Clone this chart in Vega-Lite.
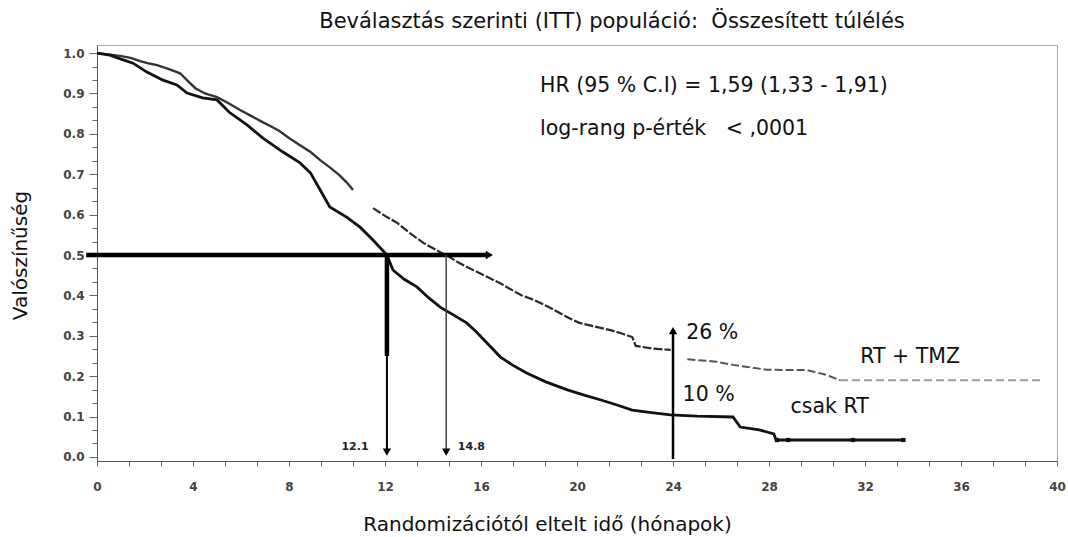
{
  "$schema": "https://vega.github.io/schema/vega-lite/v6.json",
  "width": 960,
  "height": 416,
  "autosize": {"type": "none"},
  "padding": {"left": 97, "top": 45, "right": 11, "bottom": 76},
  "background": "white",
  "title": {
    "text": "Beválasztás szerinti (ITT) populáció: \u00a0Összesített túlélés",
    "font": "DejaVu Sans", "fontSize": 21, "fontWeight": "normal", "color": "#111",
    "anchor": "middle", "dx": 35, "offset": 13
  },
  "config": {
    "view": {"stroke": "#aaa", "strokeWidth": 1},
    "axis": {"labelOverlap": false, "labelFlush": false, "labelBound": false}
  },
  "datasets": {
    "km": [
      {"series": "RT", "seg": "r", "t": 0, "s": 1.0},
      {"series": "RT", "seg": "r", "t": 0.54, "s": 0.995},
      {"series": "RT", "seg": "r", "t": 1.0, "s": 0.985},
      {"series": "RT", "seg": "r", "t": 1.5, "s": 0.975},
      {"series": "RT", "seg": "r", "t": 2.08, "s": 0.953},
      {"series": "RT", "seg": "r", "t": 2.75, "s": 0.933},
      {"series": "RT", "seg": "r", "t": 3.33, "s": 0.921},
      {"series": "RT", "seg": "r", "t": 3.75, "s": 0.901},
      {"series": "RT", "seg": "r", "t": 4.4, "s": 0.889},
      {"series": "RT", "seg": "r", "t": 5.0, "s": 0.884},
      {"series": "RT", "seg": "r", "t": 5.5, "s": 0.854},
      {"series": "RT", "seg": "r", "t": 6.25, "s": 0.822},
      {"series": "RT", "seg": "r", "t": 6.9, "s": 0.79},
      {"series": "RT", "seg": "r", "t": 7.75, "s": 0.755},
      {"series": "RT", "seg": "r", "t": 8.46, "s": 0.728},
      {"series": "RT", "seg": "r", "t": 8.9, "s": 0.703},
      {"series": "RT", "seg": "r", "t": 9.3, "s": 0.661},
      {"series": "RT", "seg": "r", "t": 9.7, "s": 0.619},
      {"series": "RT", "seg": "r", "t": 10.4, "s": 0.594},
      {"series": "RT", "seg": "r", "t": 10.96, "s": 0.569},
      {"series": "RT", "seg": "r", "t": 11.5, "s": 0.537},
      {"series": "RT", "seg": "r", "t": 12.08, "s": 0.5},
      {"series": "RT", "seg": "r", "t": 12.33, "s": 0.463},
      {"series": "RT", "seg": "r", "t": 12.8, "s": 0.44},
      {"series": "RT", "seg": "r", "t": 13.33, "s": 0.421},
      {"series": "RT", "seg": "r", "t": 13.8, "s": 0.395},
      {"series": "RT", "seg": "r", "t": 14.3, "s": 0.371},
      {"series": "RT", "seg": "r", "t": 14.9, "s": 0.35},
      {"series": "RT", "seg": "r", "t": 15.4, "s": 0.332},
      {"series": "RT", "seg": "r", "t": 15.8, "s": 0.31},
      {"series": "RT", "seg": "r", "t": 16.25, "s": 0.282},
      {"series": "RT", "seg": "r", "t": 16.8, "s": 0.248},
      {"series": "RT", "seg": "r", "t": 17.3, "s": 0.228},
      {"series": "RT", "seg": "r", "t": 17.9, "s": 0.208},
      {"series": "RT", "seg": "r", "t": 18.7, "s": 0.186},
      {"series": "RT", "seg": "r", "t": 19.6, "s": 0.166},
      {"series": "RT", "seg": "r", "t": 20.3, "s": 0.153},
      {"series": "RT", "seg": "r", "t": 21.0, "s": 0.141},
      {"series": "RT", "seg": "r", "t": 21.7, "s": 0.128},
      {"series": "RT", "seg": "r", "t": 22.3, "s": 0.116},
      {"series": "RT", "seg": "r", "t": 23.1, "s": 0.11},
      {"series": "RT", "seg": "r", "t": 23.9, "s": 0.104},
      {"series": "RT", "seg": "r", "t": 25.0, "s": 0.101},
      {"series": "RT", "seg": "r", "t": 26.5, "s": 0.099},
      {"series": "RT", "seg": "r", "t": 26.8, "s": 0.074},
      {"series": "RT", "seg": "r", "t": 27.6, "s": 0.067},
      {"series": "RT", "seg": "r", "t": 28.2, "s": 0.057},
      {"series": "RT", "seg": "r", "t": 28.3, "s": 0.042},
      {"series": "RT", "seg": "r", "t": 33.6, "s": 0.042},
      {"series": "RT+TMZ", "seg": "a", "t": 0, "s": 1.0},
      {"series": "RT+TMZ", "seg": "a", "t": 0.96, "s": 0.993},
      {"series": "RT+TMZ", "seg": "a", "t": 1.4, "s": 0.988},
      {"series": "RT+TMZ", "seg": "a", "t": 1.8, "s": 0.98},
      {"series": "RT+TMZ", "seg": "a", "t": 2.1, "s": 0.975},
      {"series": "RT+TMZ", "seg": "a", "t": 2.5, "s": 0.97},
      {"series": "RT+TMZ", "seg": "a", "t": 3.0, "s": 0.96},
      {"series": "RT+TMZ", "seg": "a", "t": 3.46, "s": 0.95},
      {"series": "RT+TMZ", "seg": "a", "t": 3.8, "s": 0.93},
      {"series": "RT+TMZ", "seg": "a", "t": 4.1, "s": 0.913},
      {"series": "RT+TMZ", "seg": "a", "t": 4.5, "s": 0.9},
      {"series": "RT+TMZ", "seg": "a", "t": 5.0, "s": 0.891},
      {"series": "RT+TMZ", "seg": "a", "t": 5.5, "s": 0.875},
      {"series": "RT+TMZ", "seg": "a", "t": 5.96, "s": 0.859},
      {"series": "RT+TMZ", "seg": "a", "t": 6.4, "s": 0.845},
      {"series": "RT+TMZ", "seg": "a", "t": 6.9, "s": 0.829},
      {"series": "RT+TMZ", "seg": "a", "t": 7.2, "s": 0.82},
      {"series": "RT+TMZ", "seg": "a", "t": 7.6, "s": 0.807},
      {"series": "RT+TMZ", "seg": "a", "t": 8.0, "s": 0.79},
      {"series": "RT+TMZ", "seg": "a", "t": 8.46, "s": 0.772},
      {"series": "RT+TMZ", "seg": "a", "t": 8.9, "s": 0.755},
      {"series": "RT+TMZ", "seg": "a", "t": 9.3, "s": 0.735},
      {"series": "RT+TMZ", "seg": "a", "t": 9.7, "s": 0.717},
      {"series": "RT+TMZ", "seg": "a", "t": 10.1, "s": 0.698},
      {"series": "RT+TMZ", "seg": "a", "t": 10.4, "s": 0.68},
      {"series": "RT+TMZ", "seg": "a", "t": 10.67, "s": 0.661},
      {"series": "RT+TMZ", "seg": "b", "t": 11.5, "s": 0.616},
      {"series": "RT+TMZ", "seg": "b", "t": 12.08, "s": 0.594},
      {"series": "RT+TMZ", "seg": "b", "t": 12.5, "s": 0.58},
      {"series": "RT+TMZ", "seg": "b", "t": 13.04, "s": 0.554},
      {"series": "RT+TMZ", "seg": "b", "t": 13.6, "s": 0.53},
      {"series": "RT+TMZ", "seg": "b", "t": 14.3, "s": 0.507},
      {"series": "RT+TMZ", "seg": "b", "t": 14.55, "s": 0.5},
      {"series": "RT+TMZ", "seg": "b", "t": 15.1, "s": 0.48},
      {"series": "RT+TMZ", "seg": "b", "t": 15.7, "s": 0.462},
      {"series": "RT+TMZ", "seg": "b", "t": 16.25, "s": 0.446},
      {"series": "RT+TMZ", "seg": "b", "t": 16.8, "s": 0.43},
      {"series": "RT+TMZ", "seg": "b", "t": 17.3, "s": 0.413},
      {"series": "RT+TMZ", "seg": "b", "t": 17.7, "s": 0.4},
      {"series": "RT+TMZ", "seg": "b", "t": 18.2, "s": 0.389},
      {"series": "RT+TMZ", "seg": "b", "t": 18.8, "s": 0.372},
      {"series": "RT+TMZ", "seg": "b", "t": 19.3, "s": 0.356},
      {"series": "RT+TMZ", "seg": "b", "t": 19.7, "s": 0.343},
      {"series": "RT+TMZ", "seg": "b", "t": 20.1, "s": 0.332},
      {"series": "RT+TMZ", "seg": "b", "t": 20.8, "s": 0.322},
      {"series": "RT+TMZ", "seg": "b", "t": 21.4, "s": 0.314},
      {"series": "RT+TMZ", "seg": "b", "t": 21.9, "s": 0.305},
      {"series": "RT+TMZ", "seg": "b", "t": 22.3, "s": 0.297},
      {"series": "RT+TMZ", "seg": "b", "t": 22.45, "s": 0.275},
      {"series": "RT+TMZ", "seg": "b", "t": 23.2, "s": 0.268},
      {"series": "RT+TMZ", "seg": "b", "t": 23.9, "s": 0.265},
      {"series": "RT+TMZ", "seg": "c", "t": 24.6, "s": 0.242},
      {"series": "RT+TMZ", "seg": "c", "t": 25.8, "s": 0.236},
      {"series": "RT+TMZ", "seg": "c", "t": 26.5, "s": 0.228},
      {"series": "RT+TMZ", "seg": "c", "t": 27.2, "s": 0.222},
      {"series": "RT+TMZ", "seg": "c", "t": 27.9, "s": 0.216},
      {"series": "RT+TMZ", "seg": "c", "t": 29.6, "s": 0.215},
      {"series": "RT+TMZ", "seg": "c", "t": 30.4, "s": 0.203},
      {"series": "RT+TMZ", "seg": "c", "t": 30.96, "s": 0.19},
      {"series": "RT+TMZ", "seg": "d", "t": 30.96, "s": 0.19},
      {"series": "RT+TMZ", "seg": "d", "t": 39.3, "s": 0.19}
    ],
    "censor": [
      {"series": "RT", "t": 28.33, "s": 0.042},
      {"series": "RT", "t": 28.8, "s": 0.042},
      {"series": "RT", "t": 31.5, "s": 0.042},
      {"series": "RT", "t": 33.6, "s": 0.042}
    ],
    "arrows": [
      {"id": "h", "t": -0.45, "s": 0.5, "t2": 16.3, "s2": 0.5},
      {"id": "v12a", "t": 12.08, "s": 0.5, "t2": 12.08, "s2": 0.25},
      {"id": "v12b", "t": 12.08, "s": 0.5, "t2": 12.08, "s2": 0.015},
      {"id": "v148", "t": 14.55, "s": 0.5, "t2": 14.55, "s2": 0.015},
      {"id": "v24", "t": 24.0, "s": -0.005, "t2": 24.0, "s2": 0.31}
    ],
    "heads": [
      {"dir": "right", "t": 16.35, "s": 0.5},
      {"dir": "down", "t": 12.08, "s": 0.012},
      {"dir": "down", "t": 14.55, "s": 0.012},
      {"dir": "up", "t": 24.0, "s": 0.313}
    ],
    "notes": [
      {"t": 18.46, "s": 0.918, "text": "HR (95 % C.I) = 1,59 (1,33 - 1,91)"},
      {"t": 18.46, "s": 0.812, "text": "log-rang p-érték \u00a0 < ,0001"},
      {"t": 24.55, "s": 0.307, "text": "26 %"},
      {"t": 24.4, "s": 0.153, "text": "10 %"},
      {"t": 31.8, "s": 0.248, "text": "RT + TMZ"},
      {"t": 28.9, "s": 0.124, "text": "csak RT"}
    ],
    "medians": [
      {"t": 10.75, "s": 0.025, "text": "12.1"},
      {"t": 15.6, "s": 0.025, "text": "14.8"}
    ]
  },
  "encoding": {
    "x": {
      "field": "t", "type": "quantitative",
      "scale": {"domain": [0, 40], "nice": false, "zero": false},
      "axis": {
        "title": "Randomizációtól eltelt idő (hónapok)",
        "values": [0, 1.3333, 2.6667, 4, 5.3333, 6.6667, 8, 9.3333, 10.6667, 12, 13.3333, 14.6667, 16, 17.3333, 18.6667, 20, 21.3333, 22.6667, 24, 25.3333, 26.6667, 28, 29.3333, 30.6667, 32, 33.3333, 34.6667, 36, 37.3333, 38.6667, 40],
        "labelExpr": "abs(datum.value/4 - round(datum.value/4)) < 0.01 ? format(datum.value, 'd') : ''",
        "grid": false,
        "tickSize": 5, "tickColor": "#666", "domainColor": "#555",
        "labelFont": "DejaVu Sans", "labelFontWeight": "bold", "labelFontSize": 12, "labelColor": "#444",
        "labelPadding": 15, "labelFlush": false, "labelOverlap": false,
        "titleFont": "DejaVu Sans", "titleFontSize": 20, "titleFontWeight": "normal", "titleColor": "#111",
        "titleX": 450, "titleY": 63, "titleAlign": "center", "titleBaseline": "middle"
      }
    },
    "y": {
      "field": "s", "type": "quantitative",
      "scale": {"domain": [-0.01, 1.02], "nice": false, "zero": false},
      "axis": {
        "title": "Valószínűség",
        "values": [0, 0.033333, 0.066667, 0.1, 0.133333, 0.166667, 0.2, 0.233333, 0.266667, 0.3, 0.333333, 0.366667, 0.4, 0.433333, 0.466667, 0.5, 0.533333, 0.566667, 0.6, 0.633333, 0.666667, 0.7, 0.733333, 0.766667, 0.8, 0.833333, 0.866667, 0.9, 0.933333, 0.966667, 1.0],
        "labelExpr": "abs(datum.value*10 - round(datum.value*10)) < 0.01 ? format(datum.value, '.1f') : ''",
        "grid": false,
        "tickSize": {"condition": {"test": "abs(datum.value*10 - round(datum.value*10)) < 0.01", "value": 8}, "value": 5},
        "tickColor": "#666", "domainColor": "#555",
        "labelFont": "DejaVu Sans", "labelFontWeight": "bold", "labelFontSize": 12, "labelColor": "#444",
        "labelPadding": 5, "labelFlush": false, "labelOverlap": false,
        "titleFont": "DejaVu Sans", "titleFontSize": 20, "titleFontWeight": "normal", "titleColor": "#111",
        "titleX": -77, "titleY": 210, "titleAngle": -90, "titleAlign": "center", "titleBaseline": "middle"
      }
    }
  },
  "layer": [
    {
      "data": {"name": "km"},
      "transform": [{"filter": "datum.seg == 'a'"}],
      "mark": {"type": "line", "interpolate": "linear", "color": "#333", "strokeWidth": 2.4}
    },
    {
      "data": {"name": "km"},
      "transform": [{"filter": "datum.seg == 'r'"}],
      "mark": {"type": "line", "interpolate": "linear", "color": "#111", "strokeWidth": 2.8}
    },
    {
      "data": {"name": "km"},
      "transform": [{"filter": "datum.seg == 'b'"}],
      "mark": {"type": "line", "interpolate": "linear", "color": "#2a2a2a", "strokeWidth": 2.2, "strokeDash": [9, 2]}
    },
    {
      "data": {"name": "km"},
      "transform": [{"filter": "datum.seg == 'c'"}],
      "mark": {"type": "line", "interpolate": "linear", "color": "#555", "strokeWidth": 2, "strokeDash": [8, 3]}
    },
    {
      "data": {"name": "km"},
      "transform": [{"filter": "datum.seg == 'd'"}],
      "mark": {"type": "line", "interpolate": "linear", "color": "#999", "strokeWidth": 2, "strokeDash": [8, 4]}
    },
    {
      "data": {"name": "censor"},
      "mark": {"type": "point", "shape": "square", "filled": true, "color": "#111", "size": 18, "opacity": 1}
    },
    {
      "data": {"name": "arrows"},
      "transform": [{"filter": "datum.id == 'h' || datum.id == 'v12a'"}],
      "mark": {"type": "rule", "color": "#000", "strokeWidth": 4.5},
      "encoding": {"x2": {"field": "t2"}, "y2": {"field": "s2"}}
    },
    {
      "data": {"name": "arrows"},
      "transform": [{"filter": "datum.id == 'v12b'"}],
      "mark": {"type": "rule", "color": "#000", "strokeWidth": 2},
      "encoding": {"x2": {"field": "t2"}, "y2": {"field": "s2"}}
    },
    {
      "data": {"name": "arrows"},
      "transform": [{"filter": "datum.id == 'v148'"}],
      "mark": {"type": "rule", "color": "#444", "strokeWidth": 1.5},
      "encoding": {"x2": {"field": "t2"}, "y2": {"field": "s2"}}
    },
    {
      "data": {"name": "arrows"},
      "transform": [{"filter": "datum.id == 'v24'"}],
      "mark": {"type": "rule", "color": "#000", "strokeWidth": 2.5},
      "encoding": {"x2": {"field": "t2"}, "y2": {"field": "s2"}}
    },
    {
      "data": {"name": "heads"},
      "mark": {"type": "point", "filled": true, "color": "#000", "size": 70, "opacity": 1},
      "encoding": {
        "shape": {"field": "dir", "type": "nominal", "scale": {"domain": ["right", "down", "up"], "range": ["triangle-right", "triangle-down", "triangle-up"]}, "legend": null}
      }
    },
    {
      "data": {"name": "notes"},
      "mark": {"type": "text", "align": "left", "baseline": "middle", "font": "DejaVu Sans", "fontSize": 20.5, "color": "#111"},
      "encoding": {"text": {"field": "text", "type": "nominal"}}
    },
    {
      "data": {"name": "medians"},
      "mark": {"type": "text", "align": "center", "baseline": "middle", "font": "DejaVu Sans", "fontWeight": "bold", "fontSize": 11, "color": "#222"},
      "encoding": {"text": {"field": "text", "type": "nominal"}}
    }
  ]
}
